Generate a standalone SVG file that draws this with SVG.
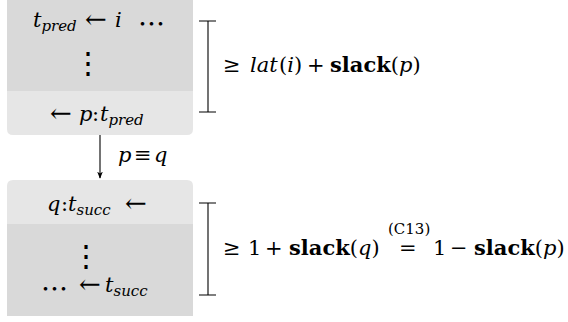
<svg xmlns="http://www.w3.org/2000/svg" width="568" height="322" viewBox="0 0 568 322">
  <style>
    .m { font-family: "DejaVu Serif", serif; font-size: 21px; }
    .it { font-style: italic; }
    .sub { font-size: 15px; font-style: italic; }
    .bf { font-weight: bold; }
    .sup { font-family: "DejaVu Serif", serif; font-size: 15px; }
    .sym { font-family: "DejaVu Serif", serif; font-size: 26px; }
    .vd { font-family: "Noto Sans CJK JP", sans-serif; font-size: 30px; text-anchor: middle; }
    .hd { font-family: "Noto Sans CJK JP", sans-serif; font-size: 27px; }
    .dark { fill: #d9d9d9; }
    .light { fill: #e6e6e6; }
    .br { stroke: #000; stroke-width: 1.1; fill: none; }
    .edge { stroke: #000; stroke-width: 1.1; fill: none; }
  </style>
  <defs>
    <marker id="arrow" viewBox="0 0 10 10" refX="9" refY="5" markerWidth="7" markerHeight="7" orient="auto" markerUnits="userSpaceOnUse">
      <path d="M0,1 L10,5 L0,9 L2.5,5 Z" fill="#000"/>
    </marker>
  </defs>

  <!-- predecessor block -->
  <g id="pred-block">
    <path class="light" d="M7,91 V129 Q7,135 13,135 H187 Q193,135 193,129 V91 Z"/>
    <rect class="dark" x="7" y="-2" width="186" height="93"/>
    <text class="m" y="27"><tspan x="33" class="it">t</tspan><tspan class="sub" dy="4">pred</tspan></text>
    <text class="sym" x="85" y="28">←</text>
    <text class="m it" x="115" y="27">i</text>
    <text class="hd" x="138" y="34">⋯</text>
    <text class="vd" x="88" y="73">⋮</text>
    <text class="sym" x="50" y="122">←</text>
    <text class="m" y="121"><tspan x="79" class="it">p</tspan><tspan x="92">:</tspan><tspan x="100" class="it">t</tspan><tspan class="sub" dy="4">pred</tspan></text>
  </g>

  <!-- successor block -->
  <g id="succ-block">
    <path class="light" d="M7,224 V186 Q7,180 13,180 H187 Q193,180 193,186 V224 Z"/>
    <rect class="dark" x="7" y="224" width="186" height="92"/>
    <text class="m" y="211"><tspan x="47" class="it">q</tspan><tspan x="61">:</tspan><tspan x="68" class="it">t</tspan><tspan class="sub" dy="4">succ</tspan></text>
    <text class="sym" x="125" y="212">←</text>
    <text class="vd" x="86" y="266">⋮</text>
    <text class="hd" x="41" y="299">⋯</text>
    <text class="sym" x="79" y="293">←</text>
    <text class="m" y="292"><tspan x="105" class="it">t</tspan><tspan class="sub" dy="4">succ</tspan></text>
  </g>

  <!-- connector -->
  <g id="connectors">
    <line class="edge" x1="100" y1="135" x2="100" y2="178" marker-end="url(#arrow)"/>
    <text class="m" y="162" font-size="20"><tspan x="118" class="it">p</tspan><tspan x="134">≡</tspan><tspan x="154" class="it">q</tspan></text>
  </g>

  <!-- latency bracket -->
  <g id="lat-bound">
    <path class="br" d="M199,21 H216 M208,21 V112 M199,112 H216"/>
    <text class="m" y="72"><tspan x="223">≥</tspan><tspan x="250" class="it">lat</tspan><tspan x="279">(</tspan><tspan class="it">i</tspan><tspan>)</tspan><tspan x="307">+</tspan><tspan x="330" class="bf">slack</tspan><tspan>(</tspan><tspan class="it">p</tspan><tspan>)</tspan></text>
  </g>

  <!-- slack bracket -->
  <g id="slack-bound">
    <path class="br" d="M199,203 H216 M208,203 V295 M199,295 H216"/>
    <text class="m" y="255"><tspan x="223">≥</tspan><tspan x="248">1</tspan><tspan x="265">+</tspan><tspan x="289" class="bf">slack</tspan><tspan>(</tspan><tspan class="it">q</tspan><tspan>)</tspan><tspan x="399">=</tspan><tspan x="433">1</tspan><tspan x="450">−</tspan><tspan x="474" class="bf">slack</tspan><tspan>(</tspan><tspan class="it">p</tspan><tspan>)</tspan></text>
    <text class="sup" x="388" y="234">(C13)</text>
  </g>
</svg>
